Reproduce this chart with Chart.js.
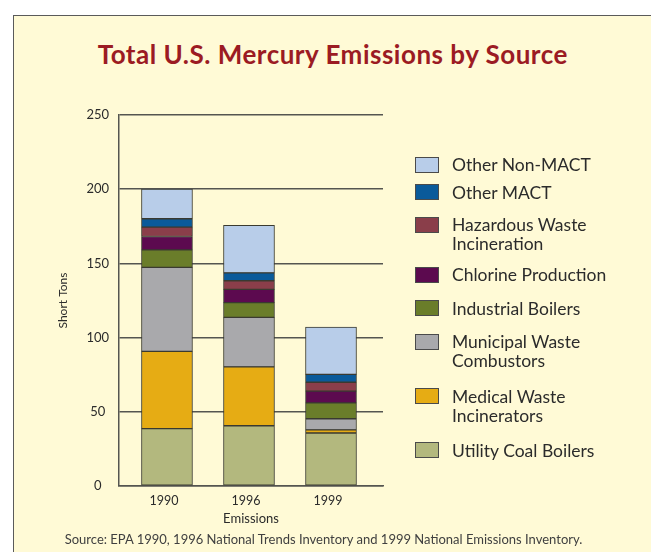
<!DOCTYPE html>
<html>
<head>
<meta charset="utf-8">
<script src="https://cdn.jsdelivr.net/npm/chart.js@4/dist/chart.umd.min.js"></script>
<style>
  html, body { margin: 0; padding: 0; width: 651px; height: 552px; overflow: hidden; background: #ffffff; font-family: Lato, "Open Sans", sans-serif; }
  #panel { position: absolute; left: 13px; top: 15px; width: 700px; height: 600px; background: #FFFAD6; border-left: 1.5px solid #5a5a5a; border-top: 1.5px solid #5a5a5a; }
  #title { position: absolute; left: 332.8px; top: 41.2px; transform: translateX(-50%); white-space: nowrap; font: bold 26px/26px Lato, sans-serif; letter-spacing: 0.5px; color: #9B1B23; }
  #source { position: absolute; left: 323.5px; top: 531.5px; transform: translateX(-50%); white-space: nowrap; font: 13px/15px Lato, sans-serif; color: #404040; }
  canvas { position: absolute; left: 0; top: 0; }
  .lg-box { position: absolute; left: 415px; width: 22px; height: 14px; border: 1px solid #4a4a4a; }
  .lg-text { position: absolute; left: 452px; font: 17.5px/19px Lato, sans-serif; color: #2b2b2b; white-space: nowrap; }
</style>
</head>
<body>
<div id="panel"></div>
<div id="title">Total U.S. Mercury Emissions by Source</div>
<canvas id="c" width="651" height="552"></canvas>
<div id="legend"></div>
<div id="source">Source: EPA 1990, 1996 National Trends Inventory and 1999 National Emissions Inventory.</div>
<script>
// ---- data (short tons) ----
const years = ["1990", "1996", "1999"];
const utilityCoalBoilers      = [38.7, 40.6, 35.7];
const medicalWasteIncinerators = [52.0, 39.7, 2.1];
const municipalWasteCombustors = [56.6, 33.3, 7.5];
const industrialBoilers       = [11.8, 10.0, 10.7];
const chlorineProduction      = [9.0, 8.9, 7.9];
const hazardousWasteIncineration = [6.3, 5.8, 6.0];
const otherMACT               = [5.7, 5.3, 5.3];
const otherNonMACT            = [19.9, 32.0, 31.9];
const yTicks = [0, 50, 100, 150, 200, 250];

// ---- series (bottom to top of stack) ----
const seriesNames = ["Utility Coal Boilers", "Medical Waste\nIncinerators", "Municipal Waste\nCombustors",
  "Industrial Boilers", "Chlorine Production", "Hazardous Waste\nIncineration", "Other MACT", "Other Non-MACT"];
const seriesValues = [utilityCoalBoilers, medicalWasteIncinerators, municipalWasteCombustors,
  industrialBoilers, chlorineProduction, hazardousWasteIncineration, otherMACT, otherNonMACT];
const seriesColors = ["#B3B87E", "#E6AC14", "#A9A9AC", "#6A7D2A", "#5C0A4F", "#8A3E4A", "#0A5A9A", "#B8CDE9"];

// legend layout (box tops, in page pixels), top entry first
const legendBoxTops = [156.7, 184.3, 216.7, 266.7, 300.3, 334, 388.3, 442.3];

const gridColor = "#555550";

const datasets = seriesValues.map((vals, s) => ({
  label: seriesNames[s].replace("\n", " "),
  data: vals.map((v, i) => ({ x: i, y: v })),
  backgroundColor: seriesColors[s],
  borderColor: "#3a3a30",
  borderWidth: 1,
  borderSkipped: false,
  barThickness: 51
}));

new Chart(document.getElementById("c"), {
  type: "bar",
  data: { datasets },
  options: {
    responsive: false,
    animation: false,
    devicePixelRatio: 1,
    layout: { padding: { left: 55.5, right: 268, top: 115, bottom: 21 } },
    plugins: { legend: { display: false }, title: { display: false }, tooltip: { enabled: false } },
    scales: {
      x: {
        type: "linear",
        stacked: true,
        offset: false,
        min: -0.585,
        max: 2.634,
        afterBuildTicks: (scale) => { scale.ticks = years.map((_, i) => ({ value: i })); },
        afterFit: (scale) => { scale.height = 45; },
        grid: { display: false, offset: false, drawTicks: false },
        border: { display: true, color: gridColor, width: 1.5 },
        ticks: {
          padding: 7,
          labelOffset: -3,
          color: "#2b2b2b",
          font: { family: "Lato", size: 12.5 },
          callback: (v) => years[v],
          maxRotation: 0
        },
        title: { display: true, text: "Emissions", color: "#2b2b2b", font: { family: "Lato", size: 13 }, padding: { top: 0, bottom: 4.5 } }
      },
      y: {
        stacked: true,
        min: 0,
        max: 250,
        afterBuildTicks: (scale) => { scale.ticks = yTicks.map(v => ({ value: v })); },
        afterFit: (scale) => { scale.width = 119 - 55.5; },
        grid: { color: gridColor, lineWidth: 1.5, drawTicks: false },
        border: { display: true, color: gridColor, width: 1.5 },
        ticks: {
          padding: 10,
          crossAlign: "center",
          color: "#2b2b2b",
          font: { family: "Lato", size: 13 }
        },
        title: { display: true, text: "Short Tons", color: "#2b2b2b", font: { family: "Lato", size: 12 }, padding: { top: 0, bottom: 0 } }
      }
    }
  }
});

// ---- HTML legend (top entry = top of stack) ----
const legend = document.getElementById("legend");
for (let k = 0; k < seriesNames.length; k++) {
  const s = seriesNames.length - 1 - k;
  const top = legendBoxTops[k];
  const box = document.createElement("div");
  box.className = "lg-box";
  box.style.top = top + "px";
  box.style.background = seriesColors[s];
  legend.appendChild(box);
  const txt = document.createElement("div");
  txt.className = "lg-text";
  txt.style.top = (top - 1.7) + "px";
  seriesNames[s].split("\n").forEach((line, j) => {
    if (j) txt.appendChild(document.createElement("br"));
    txt.appendChild(document.createTextNode(line));
  });
  legend.appendChild(txt);
}
</script>
</body>
</html>
